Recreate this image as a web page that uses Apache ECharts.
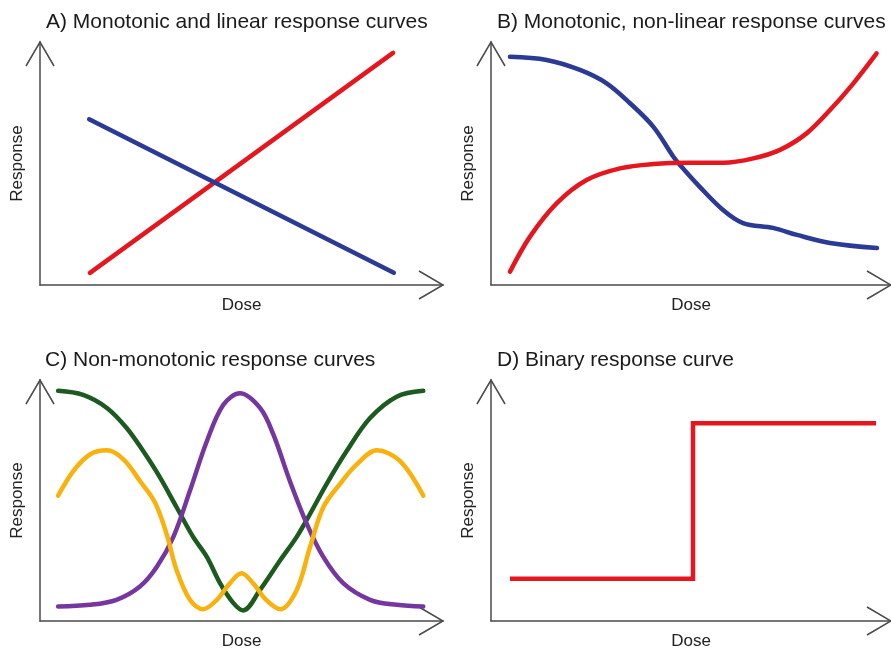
<!DOCTYPE html>
<html>
<head>
<meta charset="utf-8">
<script src="https://cdn.jsdelivr.net/npm/echarts@6/dist/echarts.min.js"></script>
<style>html,body{margin:0;padding:0;background:#fff}#c{width:891px;height:651px}</style>
</head>
<body>
<div id="c"></div>
<script>
// Panel titles
const titles = [
  'A) Monotonic and linear response curves',
  'B) Monotonic, non-linear response curves',
  'C) Non-monotonic response curves',
  'D) Binary response curve'
];
const xName = 'Dose';
const yName = 'Response';

// Panel A: linear (dose %, response %)
const aIncreasing = [[12.4, 5.0], [87.6, 95.5]];
const aDecreasing = [[12.2, 68.2], [87.8, 5.0]];

// Panel B: monotonic non-linear
const bDecreasing = [[4.75, 93.9], [13.9, 92.6], [22.25, 88.5], [28.9, 83.0], [34.75, 74.8], [40.6, 65.1], [45.6, 52.8], [47.25, 49.4], [52.25, 40.3], [58, 30.9], [63, 25.5], [70.5, 23.5], [76.5, 20.6], [84.75, 17.3], [96.5, 15.2]];
const bIncreasing = [[4.75, 5.5], [9.75, 19.9], [16.4, 33.6], [23.9, 43.2], [32.25, 48.0], [40.6, 49.8], [49.75, 50.3], [58.1, 50.3], [65.6, 52.1], [72.25, 55.6], [78.9, 62.4], [84.75, 72.0], [90.6, 83.0], [96.4, 95.3]];

// Panel C: non-monotonic
const cU = [[4.5, 95.5], [10.7, 93.8], [16.6, 88.4], [21.5, 80.1], [25.6, 70.5], [29.8, 59.5], [33.9, 47.2], [38.0, 34.9], [41.4, 26.6], [44.7, 15.6], [48.0, 7.4], [50.4, 4.4], [54.6, 12.9], [59.6, 25.2], [63.7, 34.9], [67.0, 44.4], [71.1, 56.8], [76.1, 70.5], [81.9, 84.2], [88.5, 93.1], [95.1, 95.5]];
const cBell = [[4.5, 6.0], [12.4, 6.7], [19.0, 8.8], [24.8, 14.3], [29.0, 22.5], [33.1, 34.9], [37.2, 54.0], [41.4, 74.6], [45.5, 89.7], [49.6, 94.5], [54.6, 88.4], [57.9, 77.4], [62.0, 58.1], [66.2, 40.3], [70.3, 26.6], [75.3, 15.6], [81.9, 8.8], [88.5, 6.7], [95.1, 6.0]];
const cMulti = [[4.5, 52.0], [8.3, 62.3], [12.4, 69.1], [16.6, 70.8], [20.7, 67.1], [24.8, 58.1], [28.5, 49.3], [31.4, 36.2], [33.9, 21.1], [37.2, 8.8], [40.5, 4.9], [43.9, 8.8], [47.1, 15.6], [50.0, 19.8], [52.9, 15.6], [56.1, 8.8], [59.6, 4.9], [63.7, 12.9], [67.0, 30.7], [70.3, 47.2], [74.4, 56.8], [78.6, 65.0], [83.6, 70.8], [89.3, 66.4], [95.1, 52.0]];

// Panel D: binary step
const dStep = [[4.75, 17.5], [50.5, 82.1], [96.25, 82.1]];

const RED = '#e5161d', BLUE = '#2b3a95', GREEN = '#1d5a1f', PURPLE = '#7536a0', ORANGE = '#f8b10d';
const AX = '#4a4a4a';
const FONT = '"Liberation Sans", Arial, sans-serif';

const grids = [
  {left: 40, top: 42, width: 403, height: 243},
  {left: 491, top: 42, width: 401, height: 243},
  {left: 40, top: 380, width: 403, height: 243},
  {left: 491, top: 380, width: 401, height: 243}
];
const titlePos = [[46, 12], [497, 12], [45, 350], [497, 350]];

const axisBase = {
  type: 'value', min: 0, max: 100,
  axisLine: {show: true, lineStyle: {color: AX, width: 1.5}},
  axisTick: {show: false}, axisLabel: {show: false}, splitLine: {show: false},
  nameLocation: 'middle',
  nameTextStyle: {fontFamily: FONT, fontSize: 17, color: '#222'}
};

function line(idx, data, color, extra) {
  return Object.assign({
    type: 'line', xAxisIndex: idx, yAxisIndex: idx, data: data,
    showSymbol: false, symbol: 'none', smooth: 0.35,
    lineStyle: {color: color, width: 4.5, cap: 'round', join: 'round'},
    animation: false
  }, extra || {});
}

const option = {
  backgroundColor: '#fff',
  animation: false,
  title: titles.map((t, i) => ({
    text: t, left: titlePos[i][0], top: titlePos[i][1], padding: 0,
    textStyle: {fontFamily: FONT, fontSize: 21, fontWeight: 'normal', color: '#1a1a1a'}
  })),
  grid: grids,
  xAxis: grids.map((g, i) => Object.assign({}, axisBase, {gridIndex: i, name: xName, nameGap: 12})),
  yAxis: grids.map((g, i) => Object.assign({}, axisBase, {gridIndex: i, name: yName, nameGap: 14})),
  series: [
    line(0, aIncreasing, RED, {smooth: false}),
    line(0, aDecreasing, BLUE, {smooth: false}),
    line(1, bDecreasing, BLUE),
    line(1, bIncreasing, RED),
    line(2, cU, GREEN),
    line(2, cBell, PURPLE),
    line(2, cMulti, ORANGE),
    line(3, dStep, RED, {smooth: false, step: 'end', lineStyle: {color: RED, width: 4.5, cap: 'butt', join: 'miter'}})
  ]
};

const chart = echarts.init(document.getElementById('c'), null, {renderer: 'canvas'});
chart.setOption(option);

// Open chevron arrowheads at the end of each axis
const arrows = [];
grids.forEach((g, i) => {
  const yTip = chart.convertToPixel({gridIndex: i}, [0, 100]);
  const xTip = chart.convertToPixel({gridIndex: i}, [100, 0]);
  arrows.push({type: 'polyline', silent: true,
    shape: {points: [[yTip[0] - 14, yTip[1] + 24], yTip, [yTip[0] + 14, yTip[1] + 24]]},
    style: {stroke: AX, lineWidth: 1.5, fill: null}});
  arrows.push({type: 'polyline', silent: true,
    shape: {points: [[xTip[0] - 24, xTip[1] - 14], xTip, [xTip[0] - 24, xTip[1] + 14]]},
    style: {stroke: AX, lineWidth: 1.5, fill: null}});
});
chart.setOption({graphic: arrows});
</script>
</body>
</html>
